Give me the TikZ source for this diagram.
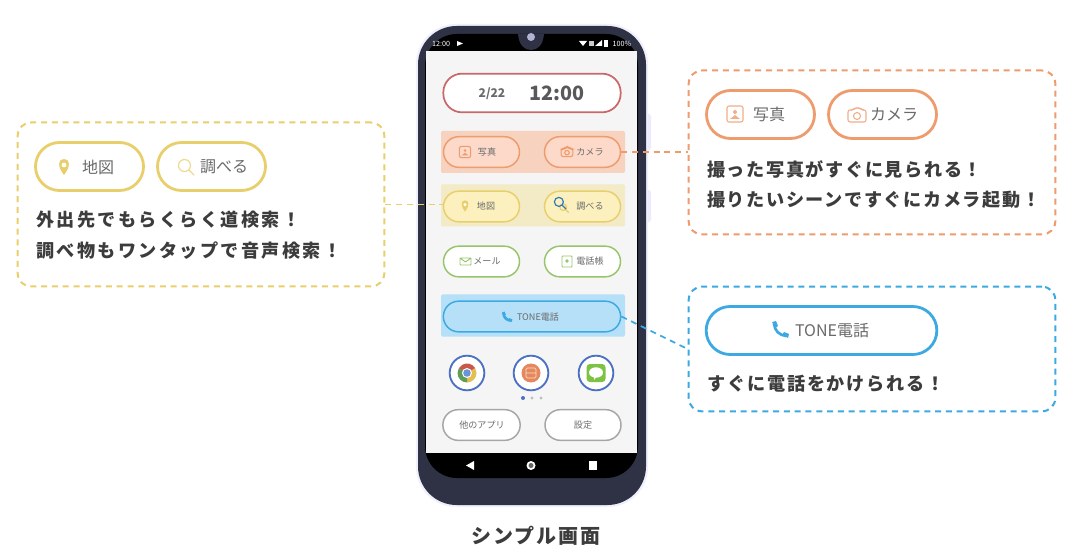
\documentclass[tikz,border=0pt]{standalone}
\usepackage{fontspec}
\setmainfont{Noto Sans CJK JP}
\newfontfamily\widefont[LetterSpace=10]{Noto Sans CJK JP}
\newfontfamily\looserfont[LetterSpace=13]{Noto Sans CJK JP}
\newfontfamily\tighterfont[LetterSpace=8.8]{Noto Sans CJK JP}
\definecolor{textgray}{HTML}{6A6A6A}
\definecolor{textdark}{HTML}{3C3C3C}
\definecolor{orangeline}{HTML}{EE9B6E}
\definecolor{orangeband}{HTML}{F7D2BF}
\definecolor{orangefill}{HTML}{FCD9C8}
\definecolor{yellowline}{HTML}{E9CF6C}
\definecolor{yellowband}{HTML}{F3EAC6}
\definecolor{yellowfill}{HTML}{FCF1BE}
\definecolor{blueline}{HTML}{3CA9E2}
\definecolor{blueband}{HTML}{B5E0F7}
\definecolor{greenline}{HTML}{97C56C}
\definecolor{redline}{HTML}{C9686A}
\definecolor{ringblue}{HTML}{4C70C2}
\definecolor{phonebody}{HTML}{2E3244}
\definecolor{chromered}{HTML}{C9574A}
\definecolor{chromeyellow}{HTML}{E3BE52}
\definecolor{chromegreen}{HTML}{5E9E5A}
\definecolor{chromeblue}{HTML}{6C93D8}
\definecolor{linegreen}{HTML}{7DC242}
\definecolor{bookorange}{HTML}{E5875F}
\newcommand{\pinicon}[3]{\begin{scope}[shift={(#1)},scale=#2]
\fill[#3] (0,8) .. controls (-7,-1) and (-6,-8) .. (0,-8) .. controls (6,-8) and (7,-1) .. (0,8) -- cycle;
\fill[white] (0,-2) circle (2.4);
\end{scope}}
\newcommand{\lensicon}[3]{\begin{scope}[shift={(#1)},scale=#2]
\draw[#3,line width=.9pt,line cap=round] (-1.5,-1.5) circle (6) (3,3) -- (8,8);
\end{scope}}
\newcommand{\photoicon}[3]{\begin{scope}[shift={(#1)},scale=#2]
\draw[#3,line width=.8pt,rounded corners=1.5pt] (-8,-8) rectangle (8,8);
\fill[#3] (0,-2) circle (2);
\fill[#3] (-5,5) -- (0,1) -- (5,5) -- cycle;
\end{scope}}
\newcommand{\cameraicon}[3]{\begin{scope}[shift={(#1)},scale=#2]
\draw[#3,line width=.8pt,rounded corners=1.5pt] (-9,-5) -- (-4,-5) -- (-2,-7) -- (3,-7) -- (5,-5) -- (9,-5) -- (9,7) -- (-9,7) -- cycle;
\draw[#3,line width=.8pt] (0,1) circle (3.5);
\end{scope}}
\newcommand{\callicon}[3]{\begin{scope}[shift={(#1)},scale=#2]
\draw[#3,line width=2pt,line cap=round] (-6,-6) .. controls (-5,1) and (-1,5) .. (6,6);
\fill[#3] (-8,-8) -- (-4,-9) -- (-2,-4) -- (-5,-2) -- cycle;
\fill[#3] (8,8) -- (9,4) -- (4,2) -- (2,5) -- cycle;
\end{scope}}
\begin{document}
\begin{tikzpicture}[x=.75pt,y=-.75pt]
\tikzstyle{every node}=[inner sep=0pt, text=textgray, font=\fontsize{12pt}{14pt}\selectfont]
\tikzstyle{callout}=[draw, dashed, dash pattern=on 4.5pt off 3.6pt, line width=1.5pt, rounded corners=10pt, minimum width=275pt, minimum height=123pt]
\tikzstyle{link}=[dashed, dash pattern=on 4.5pt off 3.6pt, line width=1.3pt]
\tikzstyle{bigpill}=[draw, fill=white, line width=2.1pt, rounded corners=18pt, minimum width=81pt, minimum height=36pt]
\tikzstyle{pill}=[draw, line width=1.1pt, rounded corners=11.5pt, minimum width=57pt, minimum height=23pt]
\tikzstyle{tiny}=[font=\fontsize{6.8pt}{8pt}\selectfont]
\tikzstyle{phrase}=[anchor=west, text=textdark, font=\fontsize{13.6pt}{16pt}\widefont\bfseries]
\tikzstyle{ring}=[draw=ringblue, fill=white, line width=1.4pt, circle, minimum size=26pt]
\tikzstyle{band}=[minimum width=138pt, minimum height=31.5pt, rounded corners=1pt]
\useasboundingbox (0,0) rectangle (1080,559);
\fill[white] (0,0) rectangle (1080,559);

\fill[rounded corners=2pt,black!8!blue!8!white] (645,114) rectangle (651,150) (645,190) rectangle (651,222);
\fill[rounded corners=30pt,fill=black!12!blue!6!white] (416,24) rectangle (648,507);
\fill[rounded corners=29pt,fill=phonebody] (418,26) rectangle (646,505);
\fill[rounded corners=24pt,fill=black] (425,34) rectangle (638,478);
\fill[fill=black!4] (426,51) rectangle (637,453);
\fill[phonebody] (518,34) -- (544,34) .. controls (543,45) and (538,50) .. (531,50) .. controls (524,50) and (519,45) .. (518,34) -- cycle;
\fill[black!55!blue!30!white] (531,37) circle (4);
\draw (441,43.5) node (clock) [text=white, font=\fontsize{5.4pt}{6pt}\selectfont] {12:00};
\fill[white] (457,41) -- (463,43.5) -- (457,46) -- cycle;
\draw (622,44) node (battery) [text=white, font=\fontsize{5.4pt}{6pt}\selectfont] {100\%};
\fill[white] (579,41) -- (587,41) -- (583,46) -- cycle;
\fill[white!80!black] (589,41) rectangle (594,46);
\fill[white] (595,46) -- (602,46) -- (602,40) -- cycle;
\fill[white] (604,40) rectangle (608,47);

\draw (533,152) node (orangeband) [band, fill=orangeband] {};
\draw (533,205.5) node (yellowband) [band, fill=yellowband] {};
\draw (533,315.5) node (blueband) [band, fill=blueband] {};

\draw (532,93) node (datepill) [draw=redline, fill=white, line width=1.3pt, rounded corners=14pt, minimum width=133pt, minimum height=29pt] {};
\draw (492,94) node (date) [font=\fontsize{9pt}{10pt}\selectfont\bfseries] {2/22};
\draw (557,93.5) node (time) [text=textdark!85!white, font=\fontsize{14.8pt}{17pt}\selectfont\bfseries] {12:00};

\draw (481.5,152) node (photopill) [pill, draw=orangeline, fill=orangefill] {};
\draw (582.5,152) node (camerapill) [pill, draw=orangeline, fill=orangefill] {};
\draw (481.5,206.5) node (mappill) [pill, draw=yellowline, fill=yellowfill] {};
\draw (582.5,206.5) node (searchpill) [pill, draw=yellowline, fill=yellowfill] {};
\draw (481.5,261.5) node (mailpill) [pill, draw=greenline, fill=white] {};
\draw (582.5,261.5) node (bookpill) [pill, draw=greenline, fill=white] {};
\draw (532,316.5) node (callpill) [pill, draw=blueline, fill=blueband, minimum width=133pt] {};
\draw (481.5,425) node (otherpill) [pill, draw=black!35, fill=white, minimum width=58pt] {};
\draw (583,425) node (settingpill) [pill, draw=black!35, fill=white] {};

\draw (487,152) node (phototxt) [tiny] {写真};
\draw (590,152) node (cameratxt) [tiny] {カメラ};
\draw (486,206.5) node (maptxt) [tiny] {地図};
\draw (590,206.5) node (searchtxt) [tiny] {調べる};
\draw (487,261.5) node (mailtxt) [tiny] {メール};
\draw (590,261.5) node (booktxt) [tiny] {電話帳};
\draw (538,317) node (calltxt) [tiny] {TONE電話};
\draw (482,425) node (othertxt) [tiny] {他のアプリ};
\draw (583,425) node (settingtxt) [tiny] {設定};

\photoicon{465,152}{.7}{orangeline}
\cameraicon{567,152}{.65}{orangeline}
\pinicon{465,206}{.7}{yellowline}
\lensicon{564,208}{.55}{yellowline}
\lensicon{560,203}{.75}{teal!70!blue!80!white}
\draw[greenline,line width=.7pt,rounded corners=.5pt] (460,258) rectangle (471,265) (460,258) -- (465.5,262) -- (471,258);
\draw[greenline,line width=.7pt,rounded corners=.5pt] (562,256) rectangle (572,267);
\fill[greenline] (567,261) circle (1.8);
\callicon{507,317}{.6}{blueline}

\draw (467,373) node (chromering) [ring] {};
\draw (531,373) node (bookring) [ring] {};
\draw (596,373) node (linering) [ring] {};
\begin{scope}[shift={(467,373)}]
\fill[chromered] (0,0) -- (-30:9.5) arc (-30:-150:9.5) -- cycle;
\fill[chromeyellow] (0,0) -- (90:9.5) arc (90:-30:9.5) -- cycle;
\fill[chromegreen] (0,0) -- (90:9.5) arc (90:210:9.5) -- cycle;
\fill[white] (0,0) circle (5);
\fill[chromeblue] (0,0) circle (3.8);
\end{scope}
\fill[bookorange] (531,373) circle (9.5);
\draw[white!75!orange,line width=.6pt,rounded corners=1pt] (526,368) rectangle (536,378) (526,373) -- (536,373);
\fill[rounded corners=2.5pt,linegreen] (586.5,364) rectangle (605.5,382);
\fill[white] (596,372.5) ellipse (7 and 5.2);
\fill[white] (594,376) -- (597,376) -- (594,380) -- cycle;

\fill[ringblue] (523,398) circle (2);
\fill[black!25] (532,398) circle (1.7);
\fill[black!25] (541,398) circle (1.7);

\fill[white] (474,461) -- (474,470) -- (466,465.5) -- cycle;
\fill[white] (531,465.5) circle (4.5);
\fill[black!60] (531,465.5) circle (2.5);
\fill[white] (589,461) rectangle (597,470);

\draw (201,204.5) node (mapbox) [callout, draw=yellowline] {};
\draw (872,152.5) node (camerabox) [callout, draw=orangeline] {};
\draw (872,349) node (callbox) [callout, draw=blueline, minimum height=93.5pt] {};

\draw (89.5,166.5) node (mapbig) [bigpill, draw=yellowline] {};
\draw (211.5,166.5) node (searchbig) [bigpill, draw=yellowline] {};
\draw (760.5,114.5) node (photobig) [bigpill, draw=orangeline] {};
\draw (882.5,114.5) node (camerabig) [bigpill, draw=orangeline] {};
\draw (821.5,330.5) node (callbig) [bigpill, draw=blueline, minimum width=173pt] {};

\draw (98,167) node (mapbigtxt) {地図};
\draw (224,167) node (searchbigtxt) {調べる};
\draw (769,114.5) node (photobigtxt) {写真};
\draw (894,115) node (camerabigtxt) {カメラ};
\draw (832,330.5) node (callbigtxt) {TONE電話};

\pinicon{64,167}{1}{yellowline}
\lensicon{186,167}{1}{yellowline!75!white}
\photoicon{735,114}{1}{orangeline!80!white}
\cameraicon{857,115}{1}{orangeline!80!white}
\callicon{780,330}{1}{blueline}

\draw (36,220) node (mapline) [phrase, font=\fontsize{13.6pt}{16pt}\looserfont\bfseries] {外出先でもらくらく道検索！};
\draw (36,251) node (searchline) [phrase, font=\fontsize{13.6pt}{16pt}\looserfont\bfseries] {調べ物もワンタップで音声検索！};
\draw (707,169) node (photoline) [phrase, font=\fontsize{13.6pt}{16pt}\tighterfont\bfseries] {撮った写真がすぐに見られる！};
\draw (707,200) node (cameraline) [phrase, font=\fontsize{13.6pt}{16pt}\tighterfont\bfseries] {撮りたいシーンですぐにカメラ起動！};
\draw (707,384) node (callline) [phrase] {すぐに電話をかけられる！};
\draw (536,536) node (caption) [text=textdark, font=\fontsize{15pt}{17pt}\widefont\bfseries] {シンプル画面};

\draw[link, yellowline] (mapbox.east) -- (mapbox.east -| mappill.west);
\draw[link, orangeline] (camerapill.east) -- (camerapill.east -| camerabox.west);
\draw[link, blueline] (callpill.east) -- (callbox.west);
\end{tikzpicture}
\end{document}
